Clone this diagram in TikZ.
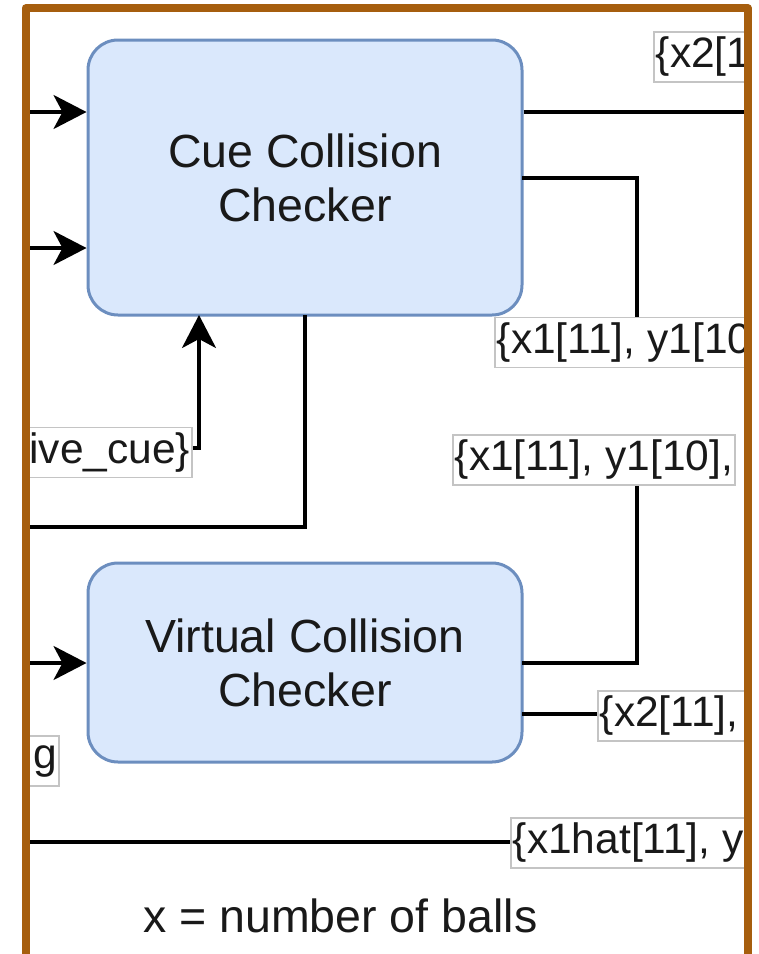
\documentclass[tikz,border=0pt]{standalone}
\usepackage{fontspec}
\setmainfont{Liberation Sans}
\usetikzlibrary{arrows.meta}
\definecolor{frame}{RGB}{166,94,14}
\definecolor{boxfill}{HTML}{DAE8FC}
\definecolor{boxdraw}{HTML}{6C8EBF}
\definecolor{labdraw}{RGB}{196,196,196}
\definecolor{txt}{RGB}{25,25,25}
\begin{document}
\begin{tikzpicture}[x=1pt,y=-1pt,
  block/.style={draw=boxdraw, fill=boxfill, line width=3pt, rounded corners=30pt,
    minimum width=434pt, align=center, text=txt, inner sep=0pt,
    font=\fontsize{46.5}{54}\selectfont},
  lab/.style={draw=labdraw, fill=white, line width=1.8pt, minimum height=50pt,
    inner xsep=2pt, inner ysep=0pt, text=txt, font=\fontsize{42.5}{50}\selectfont},
  wire/.style={line width=3.4pt, draw=black},
  arr/.style={wire, -{Stealth[length=33pt, width=34pt, inset=9pt]}},
  note/.style={text=txt, font=\fontsize{46.5}{54}\selectfont, inner sep=0pt}
]
\useasboundingbox (0,0) rectangle (759,954);
\begin{scope}
\clip (25.5,8.4) rectangle (748,970);
% boxes
\node[block, minimum height=275pt] (cue) at (305,177.5) {Cue Collision\\Checker};
\node[block, minimum height=199pt] (virt) at (305,662.5) {Virtual Collision\\Checker};
% labels
\node[lab, anchor=west] (l1) at (653,57) {\{x2[11], y2[10],};
\node[lab, anchor=west] (l2) at (494,342.5) {\{x1[11], y1[10],};
\node[lab, anchor=west] (l3) at (452,460) {\{x1[11], y1[10], };
\node[lab, anchor=west] (l4) at (597,716) {\{x2[11], y2};
\node[lab, anchor=west] (l5) at (510,843) {\{x1hat[11], y};
\node[lab, anchor=east] (l6) at (193,452.5) {tive\_cue\}};
\node[lab, anchor=east] (l7) at (60,761) {ng};
% free ends
\coordinate (a1) at (10,112);
\coordinate (a2) at (10,248);
\coordinate (a3) at (10,663);
\coordinate (b1) at (10,527);
\coordinate (b2) at (10,842);
\coordinate (o1) at (770,112);
% connectors
\draw[arr] (a1) -- (a1 -| cue.west);
\draw[arr] (a2) -- (a2 -| cue.west);
\draw[arr] (a3) -- (a3 -| virt.west);
\draw[wire] (o1 -| cue.east) -- (o1);
\draw[wire] (522,178) -- (637,178) -- (637,317);
\draw[arr] (l6.east |- 0,448) -- (199,448) -- (199,315);
\draw[wire] (305,315) -- (305,527) -- (b1);
\draw[wire] (l3.south -| 637,0) -- (637,663) -- (522,663);
\draw[wire] (522,714) -- (l4.west |- 0,714);
\draw[wire] (b2) -- (b2 -| l5.west);
% note
\node[note, anchor=base west] (n1) at (143,932) {x = number of balls};
\end{scope}
% frame
\draw[frame, line width=8pt, line join=round] (25.5,980) -- (25.5,8.4) -- (748,8.4) -- (748,980);
\end{tikzpicture}
\end{document}
